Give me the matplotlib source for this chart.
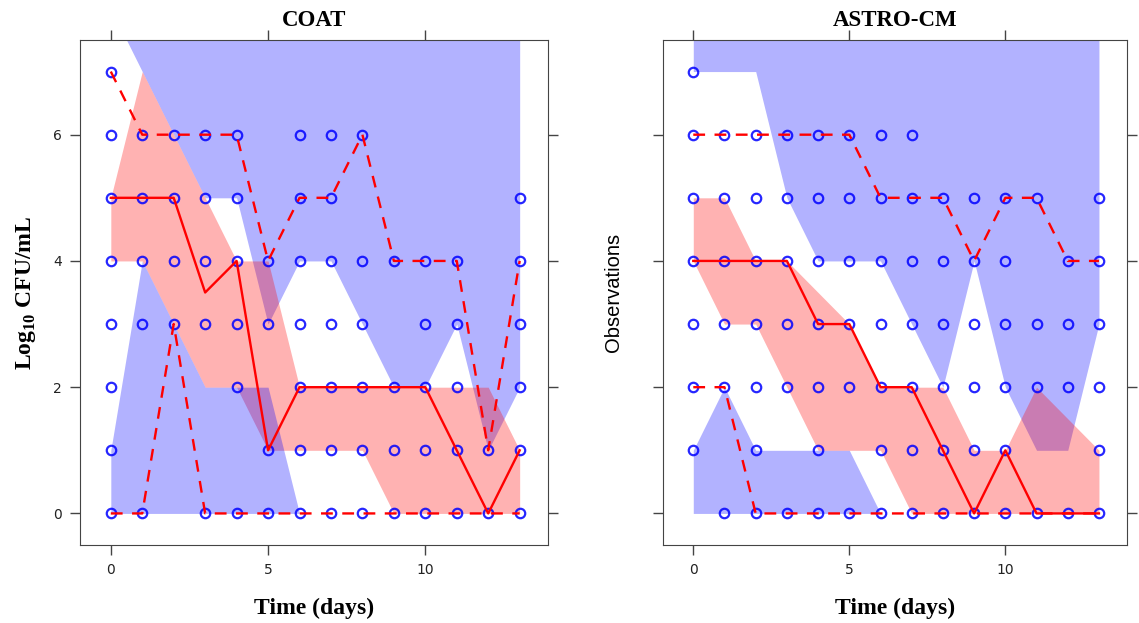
import matplotlib.pyplot as plt
import numpy as np

plt.rcParams["mathtext.fontset"] = "custom"
plt.rcParams["mathtext.rm"] = "Liberation Serif:bold"
plt.rcParams["mathtext.bf"] = "Liberation Serif:bold"

days = np.arange(14)

# observed values per day (COAT)
coat_obs = [
    [7, 6, 5, 4, 3, 2, 1, 0], [6, 5, 4, 3, 0], [6, 5, 4, 3], [6, 5, 4, 3, 0],
    [6, 5, 4, 3, 2, 0], [4, 3, 1, 0], [6, 5, 4, 3, 2, 1, 0], [6, 5, 4, 3, 2, 1, 0],
    [6, 4, 3, 2, 1, 0], [4, 2, 1, 0], [4, 3, 2, 1, 0], [4, 3, 2, 1, 0],
    [1, 0], [5, 4, 3, 2, 1, 0],
]
coat_p50 = [5, 5, 5, 3.5, 4, 1, 2, 2, 2, 2, 2, 1, 0, 1]
coat_p95 = [7, 6, 6, 6, 6, 4, 5, 5, 6, 4, 4, 4, 1, 4]
coat_p05 = [0, 0, 3, 0, 0, 0, 0, 0, 0, 0, 0, 0, 0, 0]
coat_hi_lo = [8, 7, 6, 5, 5, 3, 4, 4, 3, 2, 2, 3, 1, 2]
coat_mid_lo = [4, 4, 3, 2, 2, 1, 1, 1, 1, 0, 0, 0, 0, 0]
coat_mid_hi = [5, 7, 6, 5, 4, 4, 2, 2, 2, 2, 2, 2, 2, 1]
coat_lo_hi = [1, 4, 3, 2, 2, 2, 0, 0, 0, 0, 0, 0, 0, 0]

# observed values per day (ASTRO-CM)
astro_obs = [
    [7, 6, 5, 4, 3, 2, 1], [6, 5, 4, 3, 2, 0], [6, 5, 4, 3, 2, 1, 0], [6, 5, 4, 3, 2, 0],
    [6, 5, 4, 3, 2, 1, 0], [6, 5, 4, 3, 2, 0], [6, 5, 4, 3, 2, 1, 0], [6, 5, 4, 3, 2, 1, 0],
    [5, 4, 3, 2, 1, 0], [5, 4, 3, 2, 1, 0], [5, 4, 3, 2, 1, 0], [5, 3, 2, 0],
    [4, 3, 2, 0], [5, 4, 3, 2, 1, 0],
]
astro_p50 = [4, 4, 4, 4, 3, 3, 2, 2, 1, 0, 1, 0, 0, 0]
astro_p95 = [6, 6, 6, 6, 6, 6, 5, 5, 5, 4, 5, 5, 4, 4]
astro_p05 = [2, 2, 0, 0, 0, 0, 0, 0, 0, 0, 0, 0, 0, 0]
astro_hi_lo = [7, 7, 7, 5, 4, 4, 4, 3, 2, 4, 2, 1, 1, 3]
astro_mid_lo = [4, 3, 3, 2, 1, 1, 1, 0, 0, 0, 0, 0, 0, 0]
astro_mid_hi = [5, 5, 4, 4, 3.5, 3, 2, 2, 2, 1, 1, 2, 1.5, 1]
astro_lo_hi = [1, 2, 1, 1, 1, 1, 0, 0, 0, 0, 0, 0, 0, 0]

panels = [
    ("COAT", coat_obs, coat_p50, coat_p95, coat_p05, coat_hi_lo, coat_mid_lo, coat_mid_hi, coat_lo_hi),
    ("ASTRO-CM", astro_obs, astro_p50, astro_p95, astro_p05, astro_hi_lo, astro_mid_lo, astro_mid_hi, astro_lo_hi),
]

fig = plt.figure(figsize=(11.39, 6.23), dpi=100)
axes = [fig.add_axes([0.0705, 0.1252, 0.4106, 0.8106]),
        fig.add_axes([0.5821, 0.1252, 0.4074, 0.8106])]

for ax, (title, obs, p50, p95, p05, hi_lo, mid_lo, mid_hi, lo_hi) in zip(axes, panels):
    zeros = np.zeros(len(days))
    top = np.full(len(days), 9.0)
    ax.fill_between(days, hi_lo, top, color="blue", alpha=0.3, lw=0)
    ax.fill_between(days, mid_lo, mid_hi, color="red", alpha=0.3, lw=0)
    ax.fill_between(days, zeros, lo_hi, color="blue", alpha=0.3, lw=0)

    xs = [d for d, vals in zip(days, obs) for v in vals]
    ys = [v for vals in obs for v in vals]
    ax.plot(xs, ys, "o", ms=6.8, mfc="none", mec="blue", mew=1.6, alpha=0.85)

    ax.plot(days, p50, color="red", lw=1.7)
    ax.plot(days, p95, color="red", lw=1.7, dashes=(5, 4))
    ax.plot(days, p05, color="red", lw=1.7, dashes=(5, 4))

    ax.set_xlim(-0.97, 13.9)
    ax.set_ylim(-0.5, 7.5)
    ax.set_xticks([0, 5, 10])
    ax.set_yticks([0, 2, 4, 6])
    ax.tick_params(direction="out", length=7, width=1, pad=6, color="#444444",
                   labelcolor="#222222", labelsize=10, top=True, right=True)
    for s in ax.spines.values():
        s.set_color("#444444")
    ax.set_title(title, fontfamily="Liberation Serif", fontweight="bold", fontsize=16.5, pad=10)
    ax.set_xlabel("Time (days)", fontfamily="Liberation Serif", fontweight="bold", fontsize=17, labelpad=15)

axes[0].set_ylabel("Log$_{10}$ CFU/mL", fontfamily="Liberation Serif", fontweight="bold", fontsize=17, labelpad=11)
axes[1].set_ylabel("Observations", fontfamily="Liberation Sans", fontsize=14.5, labelpad=22)
axes[1].tick_params(labelleft=False)

fig.savefig("out.png", dpi=100)
